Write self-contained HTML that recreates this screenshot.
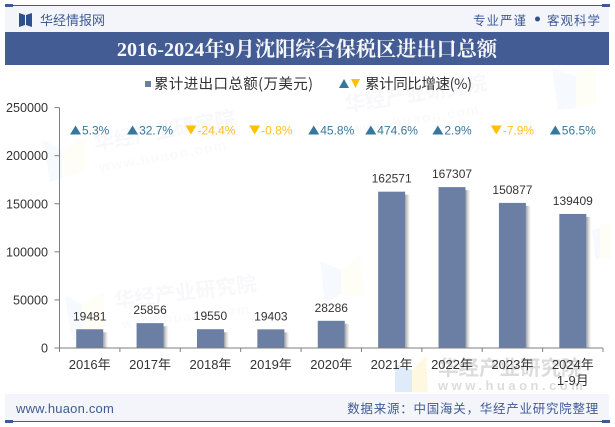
<!DOCTYPE html>
<html lang="zh">
<head>
<meta charset="utf-8">
<title>2016-2024年9月沈阳综合保税区进出口总额</title>
<style>
html,body{margin:0;padding:0;background:#fff;}
body{width:615px;height:427px;overflow:hidden;}
svg{display:block;}
text{font-family:"Liberation Sans","Noto Sans CJK SC",sans-serif;}
</style>
</head>
<body>
<svg id="chart" xmlns="http://www.w3.org/2000/svg" width="615" height="427" viewBox="0 0 615 427">
  <defs>
    <linearGradient id="shadow-grad" x1="0" x2="1" y1="0" y2="0">
      <stop offset="0" stop-color="#8c8c8c" stop-opacity="0.85"/>
      <stop offset="1" stop-color="#bbbbbb" stop-opacity="0"/>
    </linearGradient>
  </defs>
  <rect x="0" y="0" width="615" height="427" fill="#ffffff"/>

  <g fill="#d9dde6" opacity="0.2" font-weight="bold">
    <text x="95" y="150" font-size="20.5" transform="rotate(-10 95 150)">华经产业研究院</text>
    <text x="100" y="172" font-size="14" letter-spacing="1.5" opacity="0.6" transform="rotate(-10 100 172)">www.huaon.com</text>
    <text x="346" y="112" font-size="20.5" transform="rotate(-9 346 112)">华经产业研究院</text>
    <text x="352" y="134" font-size="14" letter-spacing="1.5" opacity="0.6" transform="rotate(-9 352 134)">www.huaon.com</text>
    <text x="115" y="308" font-size="20.5" transform="rotate(-7 115 308)">华经产业研究院</text>
    <text x="122" y="329" font-size="14" letter-spacing="1.5" opacity="0.6" transform="rotate(-7 122 329)">www.huaon.com</text>
  </g>
  <g opacity="0.45">
    <polygon points="43,140 62,150 62,178 50,182" fill="#eaf1fb"/>
    <polygon points="62,150 86,136 86,170 62,178" fill="#fdfaec"/>
    <polygon points="552,68 576,76 576,108 558,110" fill="#eaf1fb"/>
    <polygon points="576,76 596,66 596,104 576,108" fill="#fdfaec"/>
    <polygon points="65,296 82,304 82,340 72,340" fill="#eaf1fb"/>
    <polygon points="82,304 104,292 104,332 82,340" fill="#fdfaec"/>
    <polygon points="320,261 341,270 341,294 325,302" fill="#eaf1fb"/>
    <polygon points="341,270 360,256 365,296 341,294" fill="#fdfaec"/>
    <polygon points="592,230 600,228 600,258 596,260" fill="#eaf1fb"/>
    <polygon points="600,228 611,222 611,260 600,258" fill="#fdfaec"/>
  </g>

  <text x="438" y="375" font-size="20.5" font-weight="bold" fill="#8d8d8d" opacity="0.3">华经产业研究院</text>
  <text x="438" y="390" font-size="13" font-weight="bold" letter-spacing="3.5" fill="#8d8d8d" opacity="0.3">www.huaon.com</text>
  <polygon points="395,364 412,370 412,392 395,392" fill="#dbe8fb" opacity="0.9"/>
  <polygon points="412,370 426,356 428,392 412,392" fill="#fdf7dc" opacity="0.9"/>

  <g id="plot"></g>

  <rect x="5" y="5" width="604" height="27" fill="#f3f5fa"/>
  <rect x="5" y="5" width="604" height="1" fill="#3f5a96"/>
  <rect x="5" y="4" width="8" height="3" fill="#3f5a96"/>
  <rect x="602" y="4" width="8" height="3" fill="#3f5a96"/>
  <g fill="#2f4f8f">
    <polygon points="19,13 25,15 25,25 19,27"/>
    <polygon points="32,13 26,15 26,25 32,27"/>
  </g>
  <text x="40" y="25" font-size="13" fill="#3f5a96">华经情报网</text>
  <text x="473" y="25" font-size="12.5" letter-spacing="1" fill="#3f5a96">专业严谨</text>
  <circle cx="537.5" cy="19" r="2.5" fill="#2f4f8f"/>
  <text x="547" y="25" font-size="12.5" letter-spacing="1" fill="#3f5a96">客观科学</text>

  <rect x="5" y="32" width="604" height="33" fill="#435c94"/>
  <text x="307" y="56" font-size="20.2" font-weight="bold" fill="#f6f7fb" text-anchor="middle" style="font-family:'Liberation Serif','Noto Serif CJK SC',serif">2016-2024年9月沈阳综合保税区进出口总额</text>

  <rect x="145" y="81" width="6" height="6" fill="#6b7ea3"/>
  <text x="154" y="89" font-size="14.5" fill="#333333" textLength="159" lengthAdjust="spacing" style="font-family:'Noto Sans CJK SC',sans-serif">累计进出口总额(万美元)</text>
  <polygon points="339,88 349,88 344,79" fill="#37779b"/>
  <polygon points="351,79 360,79 355.5,88" fill="#ffc000"/>
  <text x="365" y="89" font-size="14.5" fill="#333333" textLength="107" lengthAdjust="spacing" style="font-family:'Noto Sans CJK SC',sans-serif">累计同比增速(%)</text>

  <rect x="5" y="394" width="604" height="28" fill="#f3f5fa"/>
  <rect x="5" y="421" width="604" height="1" fill="#3f5a96"/>
  <rect x="5" y="420" width="8" height="3" fill="#3f5a96"/>
  <rect x="602" y="420" width="8" height="3" fill="#3f5a96"/>
  <text x="16" y="413" font-size="13" letter-spacing="0.2" fill="#3f5a96">www.huaon.com</text>
  <text x="599" y="413" font-size="12.5" letter-spacing="0.75" fill="#3f5a96" text-anchor="end">数据来源：中国海关，华经产业研究院整理</text>
</svg>

<script>
const categories = ["2016年","2017年","2018年","2019年","2020年","2021年","2022年","2023年","2024年"];
const categorySubLabels = ["","","","","","","","","1-9月"];
const totals = [19481,25856,19550,19403,28286,162571,167307,150877,139409];
const growthRates = [5.3,32.7,-24.4,-0.8,45.8,474.6,2.9,-7.9,56.5];
const yTicks = [0,50000,100000,150000,200000,250000];

const NS = 'http://www.w3.org/2000/svg';
const plot = document.getElementById('plot');
const yMax = 250000;
const plotLeft = 59.5, plotRight = 603, plotTop = 107.6, plotBottom = 348, barWidth = 27, growthY = 130;

function yScale(v){ return plotBottom - (v / yMax) * (plotBottom - plotTop); }
function bandStart(i){ return plotLeft + i * (plotRight - plotLeft) / categories.length; }
function bandCenter(i){ return bandStart(i + 0.5); }
function make(tag, attrs, txt){
  const el = document.createElementNS(NS, tag);
  for (const k in attrs) el.setAttribute(k, attrs[k]);
  if (txt !== undefined) el.textContent = txt;
  plot.appendChild(el);
  return el;
}

yTicks.forEach(function(t){
  const y = yScale(t);
  const tick = make('line', {x1: plotLeft - 5, x2: plotLeft, y1: y, y2: y, stroke: '#7f7f7f', 'stroke-width': 1});
  
  
  const label = make('text', {x: 48, y: y + 4.5, 'font-size': 12.6, fill: '#333333', 'text-anchor': 'end'}, String(t));
  
  
});

const yAxis = make('line', {x1: plotLeft, x2: plotLeft, y1: plotTop, y2: plotBottom, stroke: '#7f7f7f', 'stroke-width': 1});



categories.forEach(function(c, i){
  const cx = bandCenter(i);
  const top = yScale(totals[i]);

  const shade = make('rect', {x: cx - barWidth / 2 + barWidth, y: top + 3, width: 5, height: plotBottom - top - 3, fill: 'url(#shadow-grad)'});
  
  

  const bar = make('rect', {x: cx - barWidth / 2, y: top, width: barWidth, height: plotBottom - top, fill: '#6b7ea3'});
  
  

  const value = make('text', {x: cx, y: top - 9, 'font-size': 12, fill: '#333333', 'text-anchor': 'middle'}, String(totals[i]));
  
  

  const label = make('text', {x: cx, y: 369, 'font-size': 13, fill: '#333333', 'text-anchor': 'middle'}, c);
  
  

  if (categorySubLabels[i]) {
    const sub = make('text', {x: cx, y: 385, 'font-size': 13, fill: '#333333', 'text-anchor': 'middle'}, categorySubLabels[i]);
    
    
  }

  const up = growthRates[i] >= 0;
  const color = up ? '#37779b' : '#ffbf1f';
  const rate = make('text', {x: 0, y: growthY + 4.5, 'font-size': 12, fill: color}, growthRates[i].toFixed(1) + '%');
  
  
  const w = rate.getComputedTextLength();
  const triW = 11;
  const startX = cx - (triW + 1 + w) / 2;
  rate.setAttribute('x', startX + triW + 1);
  const pts = up
    ? [[startX, growthY + 4.5], [startX + triW, growthY + 4.5], [startX + triW / 2, growthY - 4.5]]
    : [[startX, growthY - 4.5], [startX + triW, growthY - 4.5], [startX + triW / 2, growthY + 4.5]];
  const tri = make('polygon', {points: pts.map(function(p){ return p.join(','); }).join(' '), fill: up ? '#37779b' : '#ffc000'});
  
  
});

for (let i = 0; i <= categories.length; i++) {
  const x = bandStart(i);
  const tick = make('line', {x1: x, x2: x, y1: plotBottom, y2: plotBottom + 4, stroke: '#7f7f7f', 'stroke-width': 1});
  
  
}
const xAxis = make('line', {x1: plotLeft, x2: plotRight, y1: plotBottom, y2: plotBottom, stroke: '#7f7f7f', 'stroke-width': 1});


</script>
</body>
</html>
